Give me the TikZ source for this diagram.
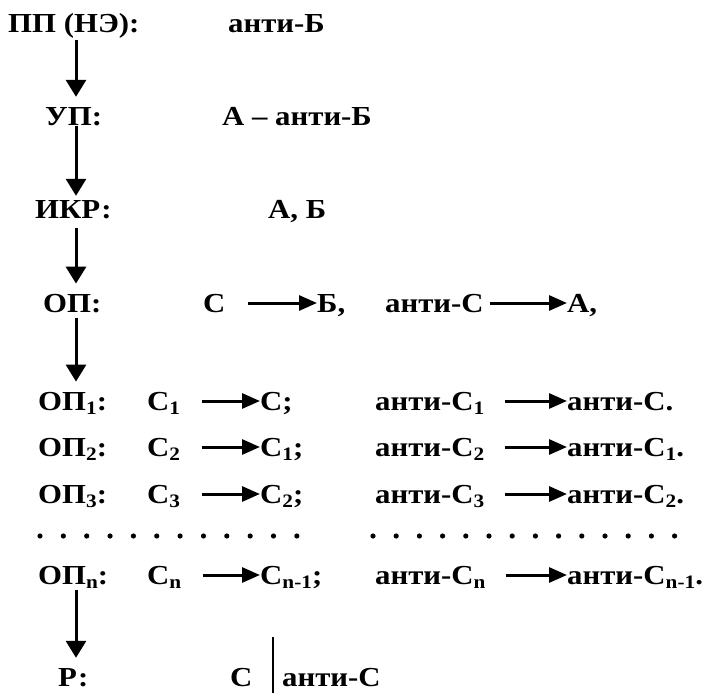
\documentclass[tikz,border=0pt]{standalone}
\usepackage{fontspec}
\setmainfont{Liberation Serif}[FakeStretch=1.12]
\usetikzlibrary{arrows.meta}
\newcommand{\idx}[1]{\raisebox{-4pt}{\fontsize{19}{19}\selectfont #1}}

\begin{document}
\begin{tikzpicture}[x=1pt,y=-1pt,
    lbl/.style={anchor=base west, inner sep=0pt, font=\fontsize{27.5}{27.5}\selectfont\bfseries},
    down/.style={line width=3pt, -{Triangle[width=20pt,length=17pt]}, shorten >=10pt},
    harr/.style={line width=3pt, -{Triangle[width=15pt,length=18pt]}}]
  \useasboundingbox (0,0) rectangle (721,693);
  \coordinate (ax) at (76,0);

  % left column
  \node[lbl] (pp) at (8,33) {ПП (НЭ):};
  \node[lbl] (up) at (45,125) {УП:};
  \node[lbl] (ikr) at (35,218) {ИКР:};
  \node[lbl] (op) at (43,312) {ОП:};
  \node[lbl] (op1) at (38,410) {ОП\idx{1}:};
  \node[lbl] (op2) at (38,456) {ОП\idx{2}:};
  \node[lbl] (op3) at (38,503) {ОП\idx{3}:};
  \node[lbl] (opn) at (38,584) {ОП\idx{n}:};
  \node[lbl] (r) at (58,686) {Р:};

  % values
  \node[lbl] (ppv) at (228,33) {анти-Б};
  \node[lbl] (upv) at (222,125) {А – анти-Б};
  \node[lbl] (ikrv) at (268,218) {А, Б};

  \node[lbl] (c) at (203,312) {С};
  \node[lbl] (b) at (317,312) {Б,};
  \node[lbl] (ac) at (385,312) {анти-С};
  \node[lbl] (a) at (567,312) {А,};

  \node[lbl] (c1) at (147,410) {С\idx{1}};
  \node[lbl] (c1t) at (260,410) {С;};
  \node[lbl] (ac1) at (375,410) {анти-С\idx{1}};
  \node[lbl] (ac1t) at (567,410) {анти-С.};

  \node[lbl] (c2) at (147,456) {С\idx{2}};
  \node[lbl] (c2t) at (260,456) {С\idx{1};};
  \node[lbl] (ac2) at (375,456) {анти-С\idx{2}};
  \node[lbl] (ac2t) at (567,456) {анти-С\idx{1}.};

  \node[lbl] (c3) at (147,503) {С\idx{3}};
  \node[lbl] (c3t) at (260,503) {С\idx{2};};
  \node[lbl] (ac3) at (375,503) {анти-С\idx{3}};
  \node[lbl] (ac3t) at (567,503) {анти-С\idx{2}.};

  \node[lbl] (cn) at (147,584) {С\idx{n}};
  \node[lbl] (cnt) at (260,584) {С\idx{n-1};};
  \node[lbl] (acn) at (375,584) {анти-С\idx{n}};
  \node[lbl] (acnt) at (567,584) {анти-С\idx{n-1}.};

  \node[lbl] (rc) at (230,686) {С};
  \node[lbl] (rac) at (282,686) {анти-С};
  \draw[line width=2.5pt] (273,637) -- (273,693);

  % dots
  \foreach \i in {0,...,11}
    \fill (40+\i*23.35,536) circle (2.6pt);
  \foreach \i in {0,...,13}
    \fill (373+\i*23.2,536) circle (2.6pt);

  % vertical arrows
  \draw[down, shorten <=1pt] (pp.south -| ax) -- (up.north -| ax);
  \draw[down, shorten >=4pt] (up.south -| ax) -- (ikr.north -| ax);
  \draw[down, shorten <=9pt] (ikr.south -| ax) -- (op.north -| ax);
  \draw[down, shorten <=5pt] (op.south -| ax) -- (op1.north -| ax);
  \draw[down, shorten <=2pt] (opn.south -| ax) -- (r.north -| ax);

  % horizontal arrows
  \draw[harr] ([xshift=22pt,yshift=9pt]c.base east) -- ([yshift=9pt]b.base west);
  \draw[harr] ([xshift=6pt,yshift=9pt]ac.base east) -- ([yshift=9pt]a.base west);
  \draw[harr] ([xshift=22pt,yshift=9pt]c1.base east) -- ([yshift=9pt]c1t.base west);
  \draw[harr] ([xshift=20pt,yshift=9pt]ac1.base east) -- ([yshift=9pt]ac1t.base west);
  \draw[harr] ([xshift=22pt,yshift=9pt]c2.base east) -- ([yshift=9pt]c2t.base west);
  \draw[harr] ([xshift=20pt,yshift=9pt]ac2.base east) -- ([yshift=9pt]ac2t.base west);
  \draw[harr] ([xshift=22pt,yshift=9pt]c3.base east) -- ([yshift=9pt]c3t.base west);
  \draw[harr] ([xshift=20pt,yshift=9pt]ac3.base east) -- ([yshift=9pt]ac3t.base west);
  \draw[harr] ([xshift=22pt,yshift=9pt]cn.base east) -- ([yshift=9pt]cnt.base west);
  \draw[harr] ([xshift=20pt,yshift=9pt]acn.base east) -- ([yshift=9pt]acnt.base west);
\end{tikzpicture}
\end{document}
